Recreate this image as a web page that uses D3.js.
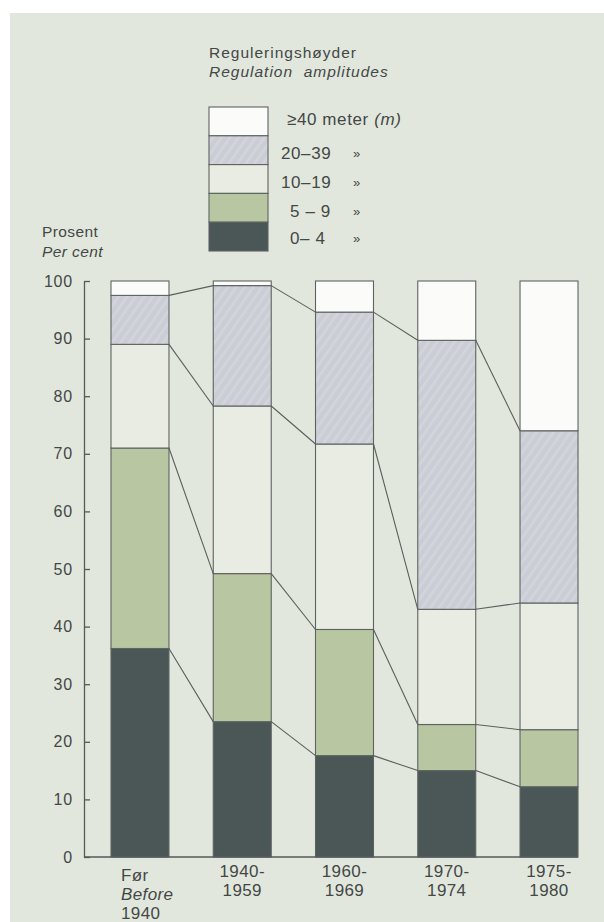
<!DOCTYPE html>
<html>
<head>
<meta charset="utf-8">
<script src="https://cdn.jsdelivr.net/npm/d3@7"></script>
<style>
  html, body { margin: 0; padding: 0; background: #ffffff; }
  svg { display: block; }
  text { font-family: "Liberation Sans", Arial, sans-serif; fill: #434746; }
</style>
</head>
<body>
<svg id="chart" width="604" height="922"></svg>
<script>
// Period categories (label lines under each bar)
const categories = ["Før 1940", "1940-1959", "1960-1969", "1970-1974", "1975-1980"];
const categoryLines = [
  [["Før", false], ["Before", true], ["1940", false]],
  [["1940-", false], ["1959", false]],
  [["1960-", false], ["1969", false]],
  [["1970-", false], ["1974", false]],
  [["1975-", false], ["1980", false]]
];

// Regulation amplitude classes, bottom to top
const seriesKeys = ["0-4", "5-9", "10-19", "20-39", "40+"];
const legendLabels = ["0– 4", "5 – 9", "10–19", "20–39", "≥40 meter"];

// Share of reservoirs (per cent) in each class, per period
const share0to4   = [36.2, 23.5, 17.6, 15.0, 12.2];
const share5to9   = [34.8, 25.7, 21.9,  8.0,  9.9];
const share10to19 = [18.0, 29.1, 32.2, 20.0, 22.0];
const share20to39 = [ 8.5, 20.9, 22.9, 46.7, 29.9];
const share40plus = [ 2.5,  0.8,  5.4, 10.3, 26.0];

const yTicks = [0, 10, 20, 30, 40, 50, 60, 70, 80, 90, 100];

const rows = categories.map((c, i) => ({
  cat: c,
  "0-4": share0to4[i],
  "5-9": share5to9[i],
  "10-19": share10to19[i],
  "20-39": share20to39[i],
  "40+": share40plus[i]
}));

const fills = {
  "0-4": "#4b5756",
  "5-9": "#b8c7a2",
  "10-19": "#e8ece3",
  "20-39": "url(#hatch)",
  "40+": "#fbfcfa"
};

const svg = d3.select("#chart");

// hatched grey for the 20–39 m class
const defs = svg.append("defs");
const pat = defs.append("pattern")
  .attr("id", "hatch")
  .attr("patternUnits", "userSpaceOnUse")
  .attr("width", 7).attr("height", 7)
  .attr("patternTransform", "rotate(35)");
pat.append("rect").attr("width", 7).attr("height", 7).attr("fill", "#cacdd5");
pat.append("rect").attr("width", 2.5).attr("height", 7).attr("fill", "#d3d5db");

// page panel
svg.append("rect").attr("x", 10).attr("y", 13).attr("width", 594).attr("height", 909)
  .attr("fill", "#e2e7dd");

const x = d3.scaleBand().domain(categories).range([84, 605])
  .paddingInner(0.433).paddingOuter(0.264);
const y = d3.scaleLinear().domain([0, 100]).range([857, 281]);

const stacked = d3.stack().keys(seriesKeys)(rows);

// bars
const g = svg.append("g");
stacked.forEach(layer => {
  g.append("g").selectAll("rect")
    .data(layer)
    .join("rect")
    .attr("x", d => x(d.data.cat))
    .attr("y", d => y(d[1]))
    .attr("width", x.bandwidth())
    .attr("height", d => y(d[0]) - y(d[1]))
    .attr("fill", fills[layer.key])
    .attr("stroke", "#5e6362")
    .attr("stroke-width", 1.1);
});

// connector lines between class boundaries of neighbouring bars
const lines = svg.append("g");
stacked.slice(0, 4).forEach(layer => {
  for (let i = 0; i < layer.length - 1; i++) {
    const a = layer[i], b = layer[i + 1];
    lines.append("line")
      .attr("x1", x(a.data.cat) + x.bandwidth())
      .attr("y1", y(a[1]))
      .attr("x2", x(b.data.cat))
      .attr("y2", y(b[1]))
      .attr("stroke", "#5a5f5e")
      .attr("stroke-width", 1.1);
  }
});

// y axis
const yAxis = d3.axisLeft(y).tickValues(yTicks).tickSizeInner(-6).tickSizeOuter(0).tickPadding(11);
const ya = svg.append("g").attr("transform", "translate(84,0)").call(yAxis);
ya.select(".domain").attr("stroke", "#555a59").attr("stroke-width", 1.3);
ya.selectAll(".tick line").attr("stroke", "#555a59").attr("stroke-width", 1.3);
ya.selectAll(".tick text").style("font-size", "16px").attr("fill", "#434746")
  .style("letter-spacing", "0.8px")
  .style("font-family", "'Liberation Sans', Arial, sans-serif");

// x baseline
svg.append("line").attr("x1", 84).attr("x2", x(categories[4]) + x.bandwidth())
  .attr("y1", y(0)).attr("y2", y(0))
  .attr("stroke", "#555a59").attr("stroke-width", 1.3);

// category labels
categoryLines.forEach((linesArr, i) => {
  const first = i === 0;
  const cx = first ? x(categories[i]) + 10 : x(categories[i]) + x.bandwidth() / 2;
  const base = first ? 881 : 877;
  linesArr.forEach(([t, it], j) => {
    svg.append("text")
      .attr("x", cx)
      .attr("y", base + j * 19)
      .attr("text-anchor", first ? "start" : "middle")
      .style("font-size", "17px")
      .style("letter-spacing", "0.4px")
      .style("font-style", it ? "italic" : "normal")
      .text(t);
  });
});

// y axis title
svg.append("text").attr("x", 42).attr("y", 237).style("font-size", "15.5px")
  .style("letter-spacing", "0.4px").text("Prosent");
svg.append("text").attr("x", 42).attr("y", 257).style("font-size", "15.5px")
  .style("letter-spacing", "0.4px").style("font-style", "italic").text("Per cent");

// legend title
svg.append("text").attr("x", 209).attr("y", 58).style("font-size", "15.5px")
  .style("letter-spacing", "1px").text("Reguleringshøyder");
svg.append("text").attr("x", 209).attr("y", 77).style("font-size", "15.5px")
  .style("letter-spacing", "1px").style("white-space", "pre")
  .style("font-style", "italic").text("Regulation  amplitudes");

// legend boxes (top row = highest class)
const legendTop = 107, legendRow = 28.8, legendX = 209, legendW = 59;
const legendOrder = seriesKeys.slice().reverse();
const legendTextX = [287, 281, 281, 290, 290];
const legendBase = [125, 159, 188, 217, 244];
legendOrder.forEach((k, i) => {
  svg.append("rect")
    .attr("x", legendX).attr("y", legendTop + i * legendRow)
    .attr("width", legendW).attr("height", legendRow)
    .attr("fill", fills[k]).attr("stroke", "#5e6362").attr("stroke-width", 1.1);
  const lbl = legendLabels[seriesKeys.length - 1 - i];
  const t = svg.append("text").attr("x", legendTextX[i]).attr("y", legendBase[i])
    .style("font-size", "17px").style("letter-spacing", "0.6px").style("white-space", "pre");
  if (k === "40+") {
    t.append("tspan").text(lbl + " ");
    t.append("tspan").style("font-style", "italic").text("(m)");
  } else {
    t.text(lbl);
    svg.append("text").attr("x", 353).attr("y", legendBase[i] - 1)
      .style("font-size", "13px").text("»");
  }
});
</script>
</body>
</html>
